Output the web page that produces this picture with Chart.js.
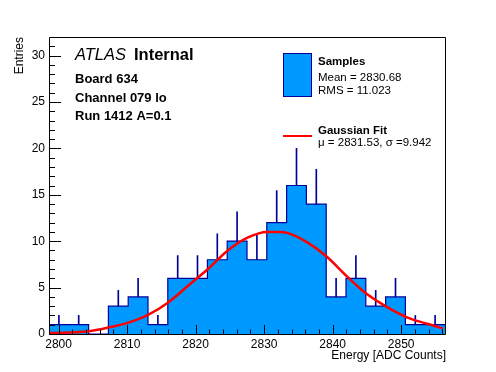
<!DOCTYPE html>
<html>
<head>
<meta charset="utf-8">
<script src="https://cdn.jsdelivr.net/npm/chart.js@4.4.0/dist/chart.umd.min.js"></script>
<style>
  html, body { margin: 0; padding: 0; background: #fff; }
  #wrap { width: 496px; height: 372px; }
</style>
</head>
<body>
<div id="wrap"><canvas id="histCanvas" width="496" height="372"></canvas></div>
<script>
// histogram binning (ADC counts)
const binStart = 2798.6;
const binWidth = 2.89;
const binCounts = [1, 1, 0, 3, 4, 1, 6, 6, 8, 10, 8, 12, 16, 14, 4, 6, 3, 4, 1, 1];
// upper error bar lengths
const binErrors = [1, 1, 0, 1.7, 2, 1, 2.45, 2.45, 2.8, 3.15, 2.8, 3.45, 4, 3.75, 2, 2.45, 1.7, 2, 1, 1];

// gaussian fit curve
const fitX = [2798.75, 2804.4, 2807.4, 2810.1, 2813.05, 2816.0, 2818.9, 2821.8, 2824.7, 2827.65,
              2830.4, 2832.3, 2833.35, 2836.25, 2839.2, 2842.1, 2845.0, 2847.95, 2850.85, 2853.8, 2856.1];
const fitY = [0.1, 0.3, 0.72, 1.2, 2.05, 3.4, 5.2, 7.0, 9.0, 10.4,
              11.0, 11.0, 10.9, 9.9, 8.3, 6.2, 4.3, 2.9, 1.8, 1.1, 0.6];

// axis ticks
const xTicks = [2800, 2810, 2820, 2830, 2840, 2850];
const yTicks = [0, 5, 10, 15, 20, 25, 30];
const xMin = 2798.6, xMax = 2856.4;
const yMin = 0, yMax = 32;

// labels
const atlasLines = ['Board 634', 'Channel 079 lo', 'Run 1412 A=0.1'];
const statLines = ['Mean = 2830.68', 'RMS = 11.023'];
const fitLine = 'μ = 2831.53, σ =9.942';

const fillBlue = '#0099ff';
const lineBlue = '#000099';
const FONT = '"Liberation Sans", Arial, Helvetica, sans-serif';

// histogram as a stepped outline
const histPoints = binCounts.map((c, i) => ({ x: binStart + i * binWidth, y: c }));
histPoints.push({ x: binStart + binCounts.length * binWidth, y: binCounts[binCounts.length - 1] });

// error bars as thin floating bars
const errPoints = [];
binCounts.forEach((c, i) => {
  if (binErrors[i] > 0) errPoints.push({ x: binStart + (i + 0.5) * binWidth, y: [c, c + binErrors[i]] });
});

const fitPoints = fitX.map((x, i) => ({ x: x, y: fitY[i] }));

// frame, inner ticks, texts, legend
const decorPlugin = {
  id: 'decor',
  afterDraw(chart) {
    const ctx = chart.ctx;
    const a = chart.chartArea;
    const xs = chart.scales.x, ys = chart.scales.y;
    ctx.save();
    ctx.strokeStyle = '#000';
    ctx.lineWidth = 1;
    ctx.beginPath();
    ctx.rect(Math.round(a.left) + 0.5, Math.round(a.top) + 0.5, Math.round(a.right - a.left), Math.round(a.bottom - a.top));
    ctx.stroke();

    // y ticks
    ctx.beginPath();
    for (let v = yMin; v <= 31; v++) {
      const py = Math.round(ys.getPixelForValue(v)) + 0.5;
      const len = v % 5 === 0 ? 12 : 6;
      ctx.moveTo(a.left, py);
      ctx.lineTo(a.left + len, py);
    }
    // x ticks
    for (let v = 2800; v <= 2856; v += 2) {
      const px = Math.round(xs.getPixelForValue(v)) + 0.5;
      const len = v % 10 === 0 ? 9 : 4.5;
      ctx.moveTo(px, a.bottom);
      ctx.lineTo(px, a.bottom - len);
    }
    ctx.stroke();

    // axis titles
    ctx.fillStyle = '#000';
    ctx.font = '12px ' + FONT;
    ctx.textAlign = 'right';
    ctx.textBaseline = 'alphabetic';
    ctx.fillText('Energy [ADC Counts]', 446, 359);
    ctx.save();
    ctx.translate(23, 37);
    ctx.rotate(-Math.PI / 2);
    ctx.fillText('Entries', 0, 0);
    ctx.restore();

    // ATLAS label
    ctx.textAlign = 'left';
    ctx.font = 'italic 16.5px ' + FONT;
    ctx.fillText('ATLAS', 75, 60);
    ctx.font = 'bold 16.5px ' + FONT;
    ctx.fillText('Internal', 134, 60);
    ctx.font = 'bold 13px ' + FONT;
    atlasLines.forEach((t, i) => ctx.fillText(t, 75, 83 + i * 18.7));

    // legend
    ctx.fillStyle = fillBlue;
    ctx.fillRect(283, 53, 29, 44);
    ctx.strokeStyle = lineBlue;
    ctx.strokeRect(283.5, 53.5, 28, 43);
    ctx.strokeStyle = '#ff0000';
    ctx.lineWidth = 2;
    ctx.beginPath();
    ctx.moveTo(283, 136);
    ctx.lineTo(312, 136);
    ctx.stroke();
    ctx.fillStyle = '#000';
    ctx.font = 'bold 11.5px ' + FONT;
    ctx.fillText('Samples', 318, 65);
    ctx.fillText('Gaussian Fit', 318, 134);
    ctx.font = '11.5px ' + FONT;
    statLines.forEach((t, i) => ctx.fillText(t, 318, 80.5 + i * 13.5));
    ctx.fillText(fitLine, 318, 146);
    ctx.restore();
  }
};

const ctx = document.getElementById('histCanvas').getContext('2d');
new Chart(ctx, {
  type: 'line',
  data: {
    datasets: [
      {
        label: 'Gaussian Fit',
        data: fitPoints,
        borderColor: '#ff0000',
        borderWidth: 2.5,
        pointRadius: 0,
        fill: false,
        cubicInterpolationMode: 'monotone',
        order: 0
      },
      {
        type: 'bar',
        label: 'errors',
        data: errPoints,
        backgroundColor: lineBlue,
        barThickness: 1,
        order: 1
      },
      {
        label: 'Samples',
        data: histPoints,
        stepped: 'before',
        borderColor: lineBlue,
        borderWidth: 1.2,
        backgroundColor: fillBlue,
        fill: 'origin',
        pointRadius: 0,
        order: 2
      }
    ]
  },
  options: {
    responsive: false,
    animation: false,
    devicePixelRatio: 1,
    layout: { padding: { left: 0, top: 37, right: 51, bottom: 0 } },
    scales: {
      x: {
        type: 'linear',
        min: xMin,
        max: xMax,
        offset: false,
        grid: { display: false, drawTicks: false },
        border: { display: false },
        afterBuildTicks: (s) => { s.ticks = xTicks.map(v => ({ value: v })); },
        afterFit: (s) => { s.height = 38; },
        ticks: { color: '#000', font: { size: 12, family: FONT }, padding: 3, maxRotation: 0,
                 callback: (v) => String(v) }
      },
      y: {
        type: 'linear',
        min: yMin,
        max: yMax,
        grid: { display: false, drawTicks: false },
        border: { display: false },
        afterBuildTicks: (s) => { s.ticks = yTicks.map(v => ({ value: v })); },
        afterFit: (s) => { s.width = 49; },
        ticks: { color: '#000', font: { size: 12, family: FONT }, padding: 4,
                 callback: (v) => String(v) }
      }
    },
    plugins: {
      legend: { display: false },
      tooltip: { enabled: false }
    }
  },
  plugins: [decorPlugin]
});
</script>
</body>
</html>
